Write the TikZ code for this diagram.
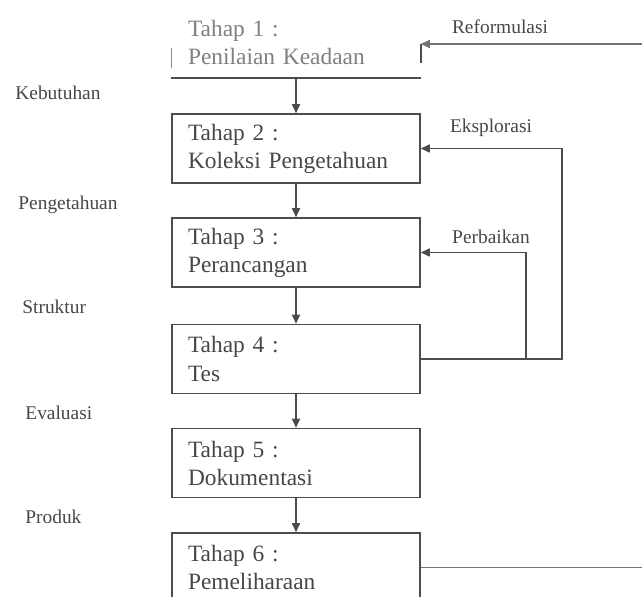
\documentclass[tikz,border=0pt]{standalone}
\usepackage{fontspec}
\setmainfont{Liberation Serif}
\usetikzlibrary{arrows.meta}
\definecolor{ink}{gray}{0.30}
\definecolor{txt}{gray}{0.28}
\begin{document}
\begin{tikzpicture}[x=0.5pt,y=-0.5pt,
  stagebox/.style={draw=ink,line width=0.75pt,rectangle,minimum width=124pt,minimum height=34.5pt,
    text width=108pt,inner xsep=8pt,inner ysep=2pt,align=left,font=\fontsize{11.7}{14}\selectfont,text=txt},
  sidelbl/.style={anchor=west,font=\fontsize{9.7}{11}\selectfont,text=txt,inner sep=0pt},
  toplbl/.style={font=\fontsize{9.7}{11}\selectfont,text=txt,inner sep=0pt},
  arr/.style={draw=ink,line width=0.75pt,-{Triangle[length=4.5pt,width=4pt]}},
  line/.style={draw=ink,line width=0.75pt}]
\useasboundingbox (0,0) rectangle (642,597);
% boxes
\node[stagebox,draw=none,text=black!50] (b1) at (296,43) {Tahap 1 :\\Penilaian Keadaan};
\node[stagebox] (b2) at (296,148.5) {Tahap 2 :\\Koleksi Pengetahuan};
\node[stagebox] (b3) at (296,252.5) {Tahap 3 :\\Perancangan};
\node[stagebox] (b4) at (296,359) {Tahap 4 :\\Tes};
\node[stagebox] (b5) at (296,463) {Tahap 5 :\\Dokumentasi};
\node[stagebox] (b6) at (296,567.5) {Tahap 6 :\\Pemeliharaan};
% visible parts of box 1
\draw[line] (b1.south west) -- (b1.south east);
\draw[line,draw=black!45] (b1.west |- 0,48) -- (b1.west |- 0,68);
\draw[line] (b1.east |- 0,44) -- (b1.east |- 0,63);
% left labels
\node[sidelbl] (l1) at (15,93) {Kebutuhan};
\node[sidelbl] (l2) at (18,205) {Pengetahuan};
\node[sidelbl] (l3) at (22,307) {Struktur};
\node[sidelbl] (l4) at (25,413) {Evaluasi};
\node[sidelbl] (l5) at (25,517) {Produk};
% vertical arrows
\draw[arr] (b1) -- (b2);
\draw[arr] (b2) -- (b3);
\draw[arr] (b3) -- (b4);
\draw[arr] (b4) -- (b5);
\draw[arr] (b5) -- (b6);
% feedback loops
\coordinate (rf) at (652,567.5);
\coordinate (ek) at (562,359);
\coordinate (pb) at (526,359);
\draw[arr,draw=black!55] (b6.east) -- (rf) |- (b1.east |- 0,44);
\draw[arr] (b4.east) -- (ek) |- (b2.east);
\draw[arr] (pb) |- (b3.east);
% loop labels
\node[toplbl] (t1) at (500,27) {Reformulasi};
\node[toplbl] (t2) at (491,128) {Eksplorasi};
\node[toplbl] (t3) at (491,237) {Perbaikan};
\end{tikzpicture}
\end{document}
